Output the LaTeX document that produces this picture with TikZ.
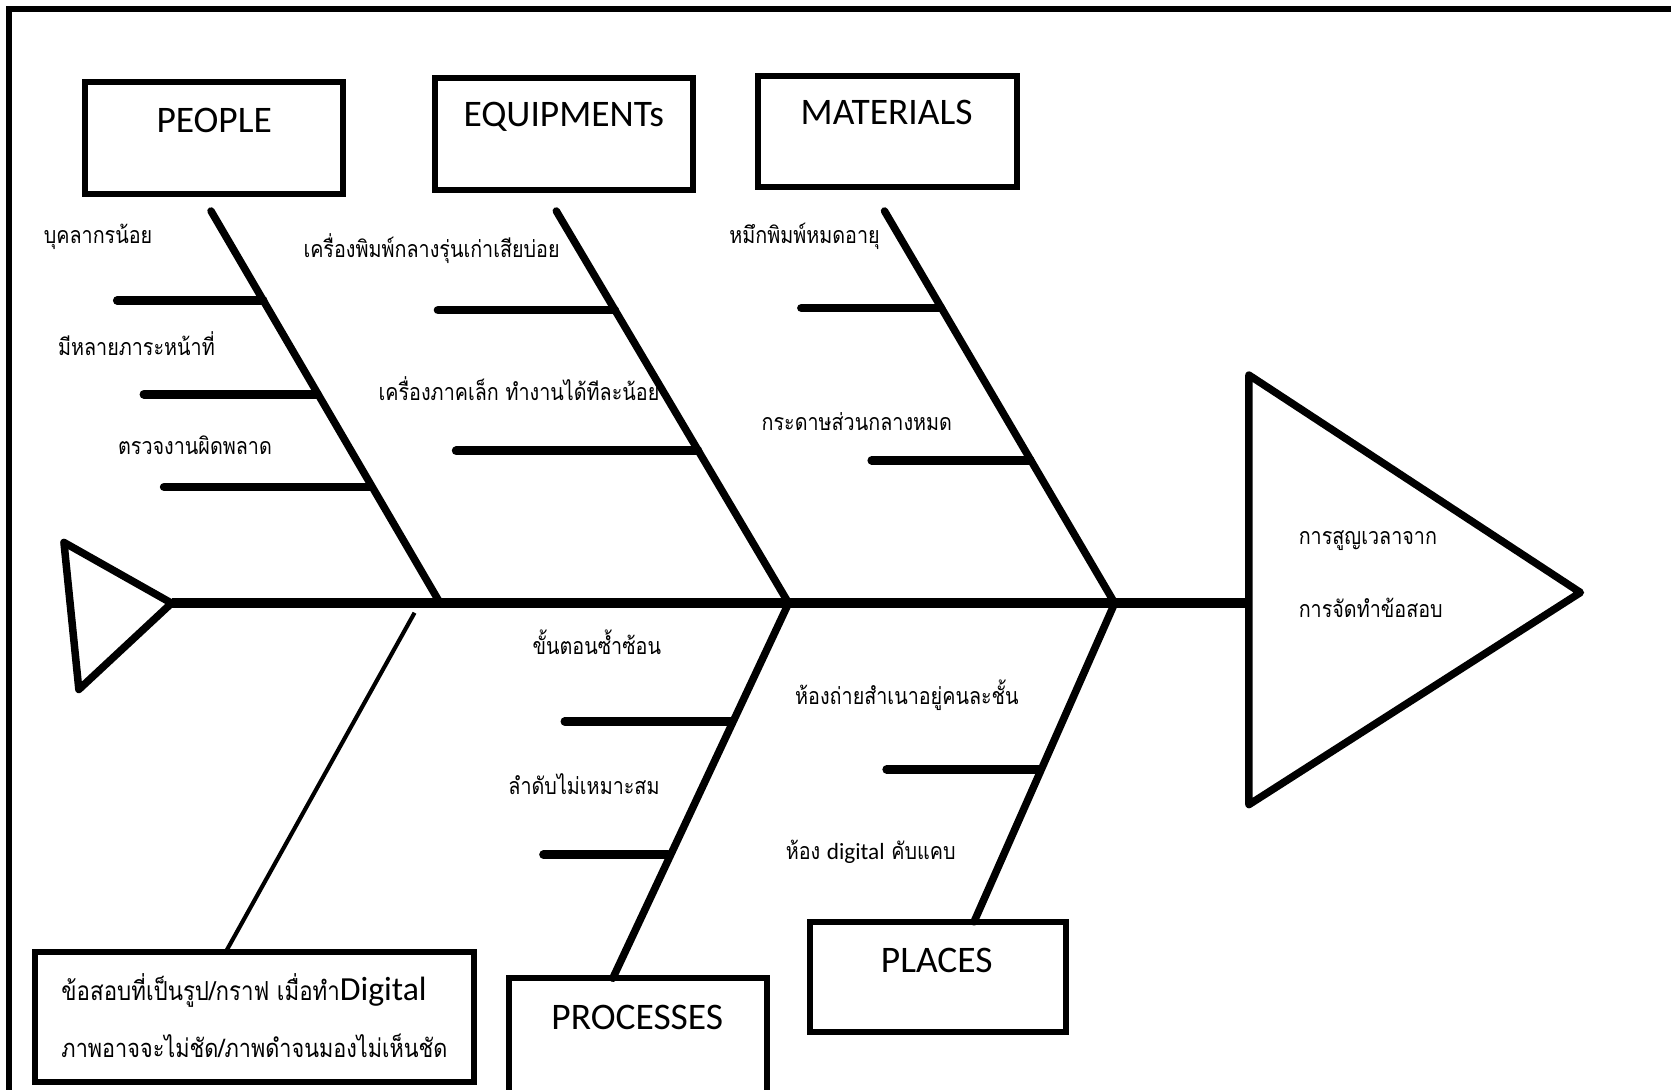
\documentclass[tikz,border=0pt]{standalone}
\usepackage{fontspec}
\setmainfont{Carlito}
\newfontfamily\thaifont[Script=Thai, FakeStretch=0.85]{Loma}
\newcommand\eng[1]{{\rmfamily #1}}
\usetikzlibrary{calc}

\begin{document}
\begin{tikzpicture}[x=0.01cm, y=-0.01cm,
  cause/.style={draw, line width=1.6pt, inner sep=0pt},
  title/.style={font=\fontsize{10}{12}\selectfont, inner sep=0pt},
  reason/.style={font=\fontsize{6.2}{7}\selectfont\thaifont, inner sep=0pt},
  spine/.style={line width=2.6pt},
  bone/.style={line width=2pt, line cap=round},
  sub/.style={line width=2.3pt, line cap=round},
  fin/.style={line width=2pt, line join=round, line cap=round}]

\useasboundingbox (0,0) rectangle (1568,1022);
\clip (0,0) rectangle (1568,1022);
\draw[line width=1.6pt] (8,8) rectangle (1600,1060);

% category boxes
\node[cause, minimum width=2.42cm, minimum height=1.05cm](people) at (201,129.5) {};
\node[title](peopleT) at (201,113) {PEOPLE};
\node[cause, minimum width=2.42cm, minimum height=1.05cm](equip) at (529,125.5) {};
\node[title](equipT) at (529,110) {EQUIPMENTs};
\node[cause, minimum width=2.43cm, minimum height=1.04cm](mater) at (832.5,123) {};
\node[title](materT) at (832,106) {MATERIALS};
\node[cause, minimum width=2.42cm, minimum height=1.5cm](proc) at (599,993) {};
\node[title](procT) at (598,955) {PROCESSES};
\node[cause, minimum width=2.40cm, minimum height=1.03cm](place) at (880,916.5) {};
\node[title](placeT) at (879,901) {PLACES};
\node[cause, minimum width=4.12cm, minimum height=1.22cm](note) at (239,954) {};
\node[reason, font=\fontsize{7}{8}\selectfont\thaifont, anchor=west](note1) at (57,929) {ข้อสอบที่เป็นรูป/กราฟ เมื่อทำ\eng{\fontsize{9}{10}\selectfont Digital}};
\node[reason, font=\fontsize{6.8}{8}\selectfont\thaifont, anchor=west](note2) at (57,981) {ภาพอาจจะไม่ชัด/ภาพดำจนมองไม่เห็นชัด};

% head and tail
\coordinate(tailA) at (60,509);
\coordinate(tailTip) at (161,566);
\coordinate(tailB) at (74,647);
\draw[fin] (tailA) -- (tailTip) -- (tailB) -- cycle;
\coordinate(headTop) at (1172,352);
\coordinate(headTip) at (1483,556);
\coordinate(headBot) at (1172,755);
\draw[fin] (headTop) -- (headTip) -- (headBot) -- cycle;
\coordinate(headBase) at (1172,566);
\draw[spine] (tailTip) -- (headBase);
\node[reason, anchor=west](effect1) at (1218,507) {การสูญเวลาจาก};
\node[reason, anchor=west](effect2) at (1218,570) {การจัดทำข้อสอบ};

% people
\coordinate(pTop) at (198,198);
\coordinate(pJ) at (413,566);
\draw[bone] (pTop) -- (pJ);
\coordinate(p1e) at (110,282); \coordinate(p1) at (247,282);
\coordinate(p2e) at (135,370); \coordinate(p2) at (298,370);
\coordinate(p3e) at (154,457); \coordinate(p3) at (348,457);
\draw[sub] (p1e) -- (p1);
\draw[sub] (p2e) -- (p2);
\draw[sub] (p3e) -- (p3);
\node[reason](p1T) at (92,222) {บุคลากรน้อย};
\node[reason](p2T) at (128,322) {มีหลายภาระหน้าที่};
\node[reason](p3T) at (183,418) {ตรวจงานผิดพลาด};

% equipments
\coordinate(eTop) at (522,198);
\coordinate(eJ) at (740,566);
\draw[bone] (eTop) -- (eJ);
\coordinate(e1e) at (411,291); \coordinate(e1) at (577,291);
\coordinate(e2e) at (428,423); \coordinate(e2) at (655,423);
\draw[sub] (e1e) -- (e1);
\draw[sub] (e2e) -- (e2);
\node[reason](e1T) at (405,233) {เครื่องพิมพ์กลางรุ่นเก่าเสียบ่อย};
\node[reason](e2T) at (487,365) {เครื่องภาคเล็ก ทำงานได้ทีละน้อย};

% materials
\coordinate(mTop) at (830,198);
\coordinate(mJ) at (1046,566);
\draw[bone] (mTop) -- (mJ);
\coordinate(m1e) at (752,289); \coordinate(m1) at (883,289);
\coordinate(m2e) at (818,432); \coordinate(m2) at (967,432);
\draw[sub] (m1e) -- (m1);
\draw[sub] (m2e) -- (m2);
\node[reason](m1T) at (755,222) {หมึกพิมพ์หมดอายุ};
\node[reason](m2T) at (804,396) {กระดาษส่วนกลางหมด};

% processes
\coordinate(procTop) at (575,918);
\draw[bone] (eJ) -- (procTop);
\coordinate(r1e) at (530,677); \coordinate(r1) at (686,677);
\coordinate(r2e) at (510,802); \coordinate(r2) at (627,802);
\draw[sub] (r1e) -- (r1);
\draw[sub] (r2e) -- (r2);
\node[reason](r1T) at (560,603) {ขั้นตอนซ้ำซ้อน};
\node[reason](r2T) at (548,736) {ลำดับไม่เหมาะสม};

% places
\coordinate(placeTop) at (914,865);
\draw[bone] (mJ) -- (placeTop);
\coordinate(s1e) at (832,722); \coordinate(s1) at (976,722);
\draw[sub] (s1e) -- (s1);
\node[reason](s1T) at (851,652) {ห้องถ่ายสำเนาอยู่คนละชั้น};
\node[reason](s2T) at (817,799) {ห้อง \eng{digital} คับแคบ};

% note line
\coordinate(nStart) at (389,575);
\coordinate(noteTop) at (212,893);
\draw[line width=1.1pt] (nStart) -- (noteTop);

\end{tikzpicture}
\end{document}
